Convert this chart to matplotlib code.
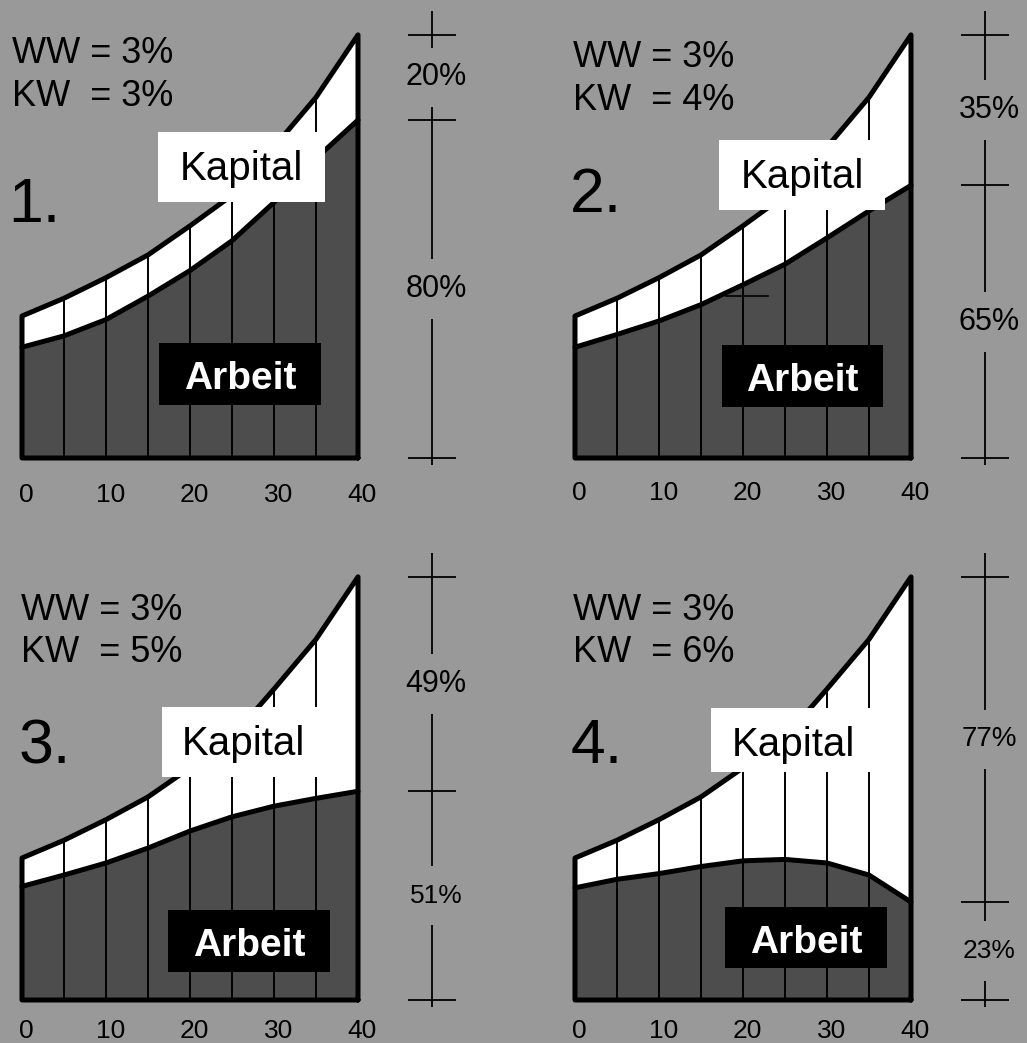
import matplotlib.pyplot as plt
from matplotlib.patches import Rectangle

plt.rcParams['font.family'] = ['Liberation Sans', 'DejaVu Sans']

# --- data ---
jahre = [0, 5, 10, 15, 20, 25, 30, 35, 40]
gesamt = [100, 112.5, 127, 143, 163.5, 185, 219, 254, 298]   # WW = 3%, same in all panels
arbeit_1 = [78, 86, 97.5, 114, 132, 153, 180, 211, 238]
arbeit_2 = [78, 87, 96.5, 108, 122, 136.5, 155, 174, 192]
arbeit_3 = [80, 88, 96.5, 107, 119, 129, 136.5, 142, 147]
arbeit_4 = [79, 85, 89, 94, 98, 99, 96.5, 88, 69]
arbeit = [arbeit_1, arbeit_2, arbeit_3, arbeit_4]
ww = [3, 3, 3, 3]
kw = [3, 4, 5, 6]
anteil_kapital = ['20%', '35%', '49%', '77%']
anteil_arbeit = ['80%', '65%', '51%', '23%']
tick_jahre = [0, 10, 20, 30, 40]

# --- layout (pixels) ---
W, H = 1027, 1043
SX, SY = 8.4, 1.42            # px per year, px per unit
BG = '#999999'
DARK = '#4d4d4d'
origins = [(22, 458), (575, 458), (22, 1000), (575, 1000)]
regions = [(0, 0), (513.5, 0), (0, 521.5), (513.5, 521.5)]
text_x = [12, 573, 21, 573]
num_x = [8, 570, 19, 571]
base_ww = [63, 67, 620, 620]
base_kw = [106, 110, 662, 662]
base_num = [222, 212, 763, 763]
kap_boxes = [(158, 132, 325, 202), (719, 140, 885, 210), (162, 707, 325, 777), (711, 708, 876, 772)]
arb_boxes = [(159, 343, 321, 405), (722, 345, 883, 407), (168, 910, 330, 972), (725, 907, 887, 968)]
pct_sizes = [(22, 22), (22, 22), (22, 19), (20, 19)]
tick_y = [-26, -25, -22, -22]

fig = plt.figure(figsize=(W / 100, H / 100), dpi=100, facecolor=BG)


def fx(x):
    return x / W


def fy(y):
    return 1 - y / H


for i in range(4):
    x0, yb = origins[i]
    L, T = regions[i]
    w, h = 513.5, 521.5
    ax = fig.add_axes([fx(L), fy(T + h), w / W, h / H])
    ax.set_xlim((L - x0) / SX, (L + w - x0) / SX)
    ax.set_ylim((yb - (T + h)) / SY, (yb - T) / SY)
    ax.axis('off')

    a = arbeit[i]
    ax.fill_between(jahre, 0, a, color=DARK, lw=0)
    ax.fill_between(jahre, a, gesamt, color='white', lw=0)
    ax.vlines(jahre[1:-1], 0, gesamt[1:-1], color='black', lw=1.4)
    xs = [jahre[-1], jahre[0]] + jahre + [jahre[-1]]
    ys = [0, 0] + gesamt + [0]
    ax.plot(xs, ys, color='black', lw=3.6, solid_joinstyle='round', solid_capstyle='round')
    ax.plot(jahre, a, color='black', lw=3.6, solid_capstyle='round')

    # scale bar on the right
    xb = 48.8
    ax.hlines([0, a[-1], gesamt[-1]], xb - 2.9, xb + 2.9, color='black', lw=1.3)
    y_ka = (a[-1] + gesamt[-1]) / 2
    y_ar = a[-1] / 2
    gap = 21
    ax.vlines(xb, -5, y_ar - gap, color='black', lw=1.3)
    ax.vlines(xb, y_ar + gap, y_ka - gap, color='black', lw=1.3)
    ax.vlines(xb, y_ka + gap, gesamt[-1] + 17, color='black', lw=1.3)
    ax.text(xb + 0.5, y_ka, anteil_kapital[i], ha='center', va='center', fontsize=pct_sizes[i][0])
    ax.text(xb + 0.5, y_ar, anteil_arbeit[i], ha='center', va='center', fontsize=pct_sizes[i][1])

    for t in tick_jahre:
        ax.text(t + 0.5, tick_y[i], str(t), ha='center', va='center', fontsize=19)

    if i == 1:
        ax.plot([18, 23], [114, 114], color='black', lw=1.2)

    # header texts
    fig.text(fx(text_x[i]), fy(base_ww[i]), f'WW = {ww[i]}%', fontsize=26, va='baseline', zorder=6)
    fig.text(fx(text_x[i]), fy(base_kw[i]), f'KW  = {kw[i]}%', fontsize=26, va='baseline', zorder=6)
    fig.text(fx(num_x[i]), fy(base_num[i]), f'{i + 1}.', fontsize=45, va='baseline', zorder=6)

    # label boxes
    bx0, by0, bx1, by1 = kap_boxes[i]
    fig.add_artist(Rectangle((fx(bx0), fy(by1)), (bx1 - bx0) / W, (by1 - by0) / H,
                             facecolor='white', edgecolor='none', zorder=5))
    fig.text(fx((bx0 + bx1) / 2), fy(by0 + 48), 'Kapital', fontsize=29, ha='center',
             va='baseline', color='black', zorder=6)
    bx0, by0, bx1, by1 = arb_boxes[i]
    fig.add_artist(Rectangle((fx(bx0), fy(by1)), (bx1 - bx0) / W, (by1 - by0) / H,
                             facecolor='black', edgecolor='none', zorder=5))
    fig.text(fx((bx0 + bx1) / 2), fy(by0 + 46), 'Arbeit', fontsize=28, fontweight='bold',
             ha='center', va='baseline', color='white', zorder=6)

fig.savefig('out.png', dpi=100, facecolor=BG)
